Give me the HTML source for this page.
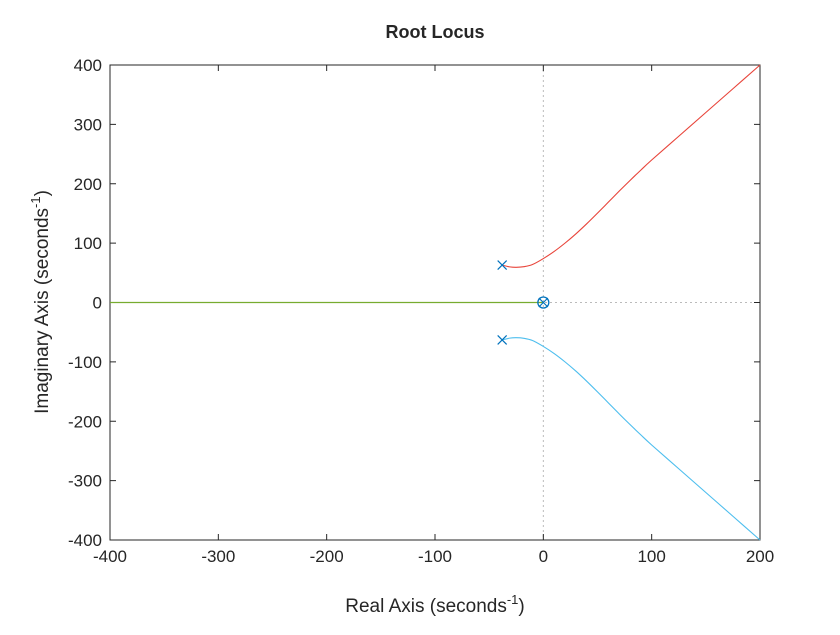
<!DOCTYPE html>
<html><head><meta charset="utf-8"><style>
body{margin:0;background:#fff;font-family:"Liberation Sans",sans-serif}
</style></head><body>
<svg width="840" height="630" font-family="Liberation Sans, sans-serif">
<rect width="840" height="630" fill="#fff"/>
<g id="g"></g>
</svg>
<script>
const xTicks=[-400,-300,-200,-100,0,100,200];
const yTicks=[-400,-300,-200,-100,0,100,200,300,400];
const upperRe=[-38,-31,-25,-18,-10,0,10,20,30,40,50,60,70,80,90,100,125,150,175,200];
const upperIm=[63,60,59.3,60.3,64,74,86,100,115.5,132.5,150.5,169,187.5,205.5,223,240,280,320,360,400];
const realAxisRe=[-400,0];
const poles=[[-38,63],[-38,-63],[0,0]];
const zeros=[[0,0]];
const L=110,R=760,T=65,B=540;
const X=v=>L+(v+400)/600*(R-L);
const Y=v=>T+(400-v)/800*(B-T);
const g=document.getElementById('g');
const NS='http://www.w3.org/2000/svg';
function el(t,a,txt){const e=document.createElementNS(NS,t);for(const k in a)e.setAttribute(k,a[k]);if(txt!==undefined)e.textContent=txt;g.appendChild(e);return e;}
function smooth(pts){
 let d='M'+pts[0][0]+','+pts[0][1];
 for(let i=0;i<pts.length-1;i++){
  const p0=pts[Math.max(i-1,0)],p1=pts[i],p2=pts[i+1],p3=pts[Math.min(i+2,pts.length-1)];
  const c1=[p1[0]+(p2[0]-p0[0])/6,p1[1]+(p2[1]-p0[1])/6];
  const c2=[p2[0]-(p3[0]-p1[0])/6,p2[1]-(p3[1]-p1[1])/6];
  d+=`C${c1[0]},${c1[1]} ${c2[0]},${c2[1]} ${p2[0]},${p2[1]}`;
 }
 return d;
}
let e;
e=el('rect',{x:L,y:T,width:R-L,height:B-T,fill:'#fff',stroke:'#262626','stroke-width':1});


e=el('line',{x1:X(0),x2:X(0),y1:T,y2:B,stroke:'#bbb','stroke-dasharray':'2,3'});


e=el('line',{x1:L,x2:R,y1:Y(0),y2:Y(0),stroke:'#bbb','stroke-dasharray':'2,3'});


xTicks.forEach(v=>{
 el('line',{x1:X(v),x2:X(v),y1:B,y2:B-6,stroke:'#262626'});
 el('line',{x1:X(v),x2:X(v),y1:T,y2:T+6,stroke:'#262626'});
 e=el('text',{x:X(v),y:B+22,'text-anchor':'middle','font-size':17,fill:'#262626'},v);
 
 
});
yTicks.forEach(v=>{
 el('line',{x1:L,x2:L+6,y1:Y(v),y2:Y(v),stroke:'#262626'});
 el('line',{x1:R,x2:R-6,y1:Y(v),y2:Y(v),stroke:'#262626'});
 e=el('text',{x:L-8,y:Y(v)+6,'text-anchor':'end','font-size':17,fill:'#262626'},v);
 
 
});
e=el('line',{x1:X(realAxisRe[0]),x2:X(realAxisRe[1]),y1:Y(0),y2:Y(0),stroke:'#77ac30','stroke-width':1.3});


const up=upperRe.map((r,i)=>[X(r),Y(upperIm[i])]);
const lo=upperRe.map((r,i)=>[X(r),Y(-upperIm[i])]);
e=el('path',{d:smooth(up),fill:'none',stroke:'#e8443a','stroke-width':1.1});


e=el('path',{d:smooth(lo),fill:'none',stroke:'#4dbeee','stroke-width':1.1});


poles.forEach(p=>{
 const cx=X(p[0]),cy=Y(p[1]),s=4.5;
 e=el('path',{d:`M${cx-s},${cy-s}L${cx+s},${cy+s}M${cx-s},${cy+s}L${cx+s},${cy-s}`,stroke:'#0072bd','stroke-width':1.2});
 
 
});
zeros.forEach(p=>{
 e=el('circle',{cx:X(p[0]),cy:Y(p[1]),r:5.5,fill:'none',stroke:'#0072bd','stroke-width':1.3});
 
 
});
e=el('text',{x:435,y:38,'text-anchor':'middle','font-size':18,'font-weight':'bold',fill:'#262626'},'Root Locus');


e=el('text',{x:435,y:612,'text-anchor':'middle','font-size':19,fill:'#262626'});
e.innerHTML='Real Axis (seconds<tspan dy="-8" font-size="13">-1</tspan><tspan dy="8">)</tspan>';


e=el('text',{x:0,y:0,'text-anchor':'middle','font-size':19,fill:'#262626',transform:'translate(48,302) rotate(-90)'});
e.innerHTML='Imaginary Axis (seconds<tspan dy="-8" font-size="13">-1</tspan><tspan dy="8">)</tspan>';


</script>
</body></html>
